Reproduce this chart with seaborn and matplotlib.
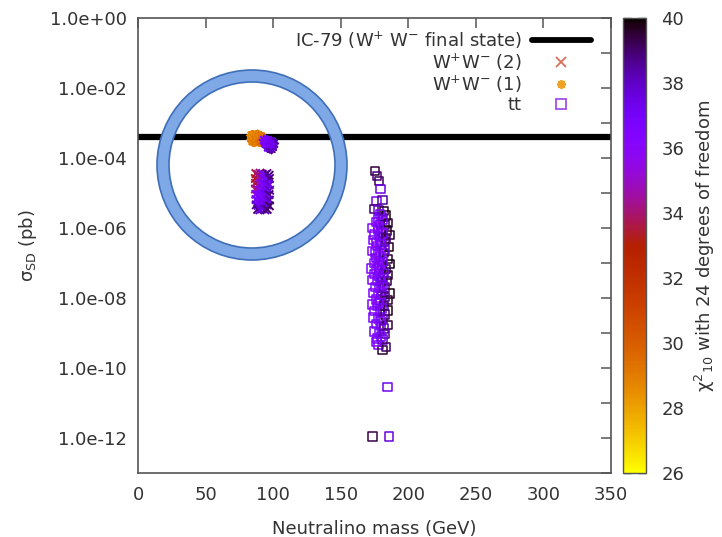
import matplotlib
matplotlib.use("Agg")
import matplotlib as mpl
import matplotlib.pyplot as plt
import numpy as np
import pandas as pd
import seaborn as sns
from matplotlib.lines import Line2D
from matplotlib.patches import Circle
from matplotlib.ticker import FixedLocator, FuncFormatter, NullLocator

# ---------------- data ----------------
ic79_limit = 4.0e-4

# W+W- (1): asterisks (orange block on the limit + violet tail)
ww1_mass = [84.0, 85.1, 86.3, 87.4, 88.6, 89.7, 90.9,
            84.6, 85.7, 86.9, 88.0, 89.2, 90.3, 91.4,
            84.2, 85.4, 86.6, 87.7, 88.9, 90.0, 91.1,
            84.8, 86.0, 87.2, 88.3, 89.5, 90.6, 91.6,
            93.2, 94.5, 95.8, 97.0, 98.3, 99.5, 100.4,
            94.0, 95.3, 96.6, 97.8, 99.0, 96.0, 97.4, 98.8, 99.9, 95.0, 98.0]
ww1_sigma = [4.4e-4, 4.5e-4, 4.3e-4, 4.4e-4, 4.6e-4, 4.3e-4, 4.2e-4,
             3.9e-4, 3.8e-4, 4.0e-4, 3.7e-4, 3.9e-4, 3.8e-4, 3.9e-4,
             3.4e-4, 3.3e-4, 3.5e-4, 3.2e-4, 3.4e-4, 3.3e-4, 3.5e-4,
             3.0e-4, 2.9e-4, 3.0e-4, 3.1e-4, 2.9e-4, 3.0e-4, 3.1e-4,
             3.3e-4, 3.1e-4, 3.2e-4, 2.9e-4, 3.0e-4, 2.8e-4, 2.6e-4,
             2.6e-4, 2.5e-4, 2.4e-4, 2.3e-4, 2.2e-4, 2.0e-4, 1.9e-4, 1.8e-4, 2.1e-4, 2.8e-4, 2.5e-4]
ww1_chi2 = [28.6, 28.9, 28.4, 29.1, 28.7, 29.3, 28.8,
            28.5, 29.0, 28.7, 28.9, 29.4, 28.6, 29.2,
            28.8, 28.3, 29.0, 28.6, 29.2, 28.9, 29.5,
            29.1, 28.7, 29.3, 28.8, 29.0, 29.4, 29.6,
            36.4, 36.8, 37.1, 36.6, 37.4, 37.9, 38.3,
            36.9, 37.2, 36.7, 37.6, 38.1, 37.0, 37.5, 38.4, 38.0, 36.5, 37.3]

# W+W- (2): crosses (lower block)
ww2_mass = [87.2, 88.9, 90.3, 92.0, 93.9, 95.4, 97.0,
            86.8, 88.5, 90.6, 92.3, 93.7, 95.7, 97.3,
            87.0, 88.8, 90.2, 91.9, 94.0, 95.3, 97.1,
            86.9, 88.6, 90.5, 92.2, 93.6, 95.6, 97.4,
            87.1, 88.9, 90.3, 92.0, 93.9, 95.4, 97.0,
            87.3, 88.7, 90.6, 92.3, 93.7, 95.7, 97.3,
            87.5, 89.0, 90.4, 92.1, 93.8, 95.5, 97.2,
            88.5, 90.2, 92.0, 93.9, 95.6]
ww2_sigma = [3.6e-5, 3.4e-5, 3.7e-5, 3.5e-5, 3.3e-5, 3.6e-5, 3.2e-5,
             2.6e-5, 2.4e-5, 2.5e-5, 2.7e-5, 2.4e-5, 2.5e-5, 2.6e-5,
             1.9e-5, 1.7e-5, 1.8e-5, 1.9e-5, 1.75e-5, 1.8e-5, 1.7e-5,
             1.3e-5, 1.25e-5, 1.2e-5, 1.3e-5, 1.25e-5, 1.3e-5, 1.2e-5,
             9.2e-6, 8.6e-6, 9.0e-6, 8.8e-6, 9.1e-6, 8.7e-6, 9.0e-6,
             6.5e-6, 6.1e-6, 6.4e-6, 6.2e-6, 6.5e-6, 6.1e-6, 6.3e-6,
             4.6e-6, 4.4e-6, 4.5e-6, 4.7e-6, 4.4e-6, 4.6e-6, 4.3e-6,
             3.4e-6, 3.3e-6, 3.5e-6, 3.3e-6, 3.4e-6]
ww2_chi2 = [33.6, 34.2, 33.9, 36.8, 37.2, 38.6, 39.1,
            33.2, 33.8, 34.5, 36.5, 37.0, 36.9, 38.8,
            33.5, 33.9, 35.2, 36.6, 36.9, 37.3, 37.8,
            34.0, 34.6, 36.3, 36.7, 36.8, 37.1, 38.2,
            35.8, 36.4, 36.6, 36.9, 37.0, 37.4, 38.9,
            36.9, 36.5, 36.7, 37.0, 36.6, 37.6, 38.4,
            38.5, 37.1, 36.8, 36.9, 37.2, 37.5, 39.2,
            38.9, 37.8, 37.3, 38.1, 39.0]

# t tbar: open squares
tt_mass = [175.5, 177.0, 178.5, 179.5, 176.5, 181.0, 174.5, 178.0, 182.0, 180.5, 183.5, 177.5,
           176.0, 179.0, 182.5, 185.0, 173.5, 177.5, 180.0, 184.0, 175.0, 178.5, 181.5, 186.0,
           174.0, 176.5, 179.5, 183.0, 177.0, 180.5, 185.5, 173.0, 175.5, 178.0, 182.0, 176.0,
           179.0, 184.5, 174.5, 177.5, 180.5, 186.5, 172.5, 176.5, 179.5, 183.5, 175.0, 178.0,
           181.0, 185.0, 173.5, 177.0, 180.0, 184.0, 175.5, 178.5, 182.5, 174.0, 177.5, 181.0,
           186.0, 176.0, 179.5, 184.5, 173.0, 177.0, 182.0, 175.0, 179.0, 185.0, 174.0, 177.5,
           181.5, 176.0, 180.0, 184.5, 175.0, 178.5, 182.5, 177.0, 181.0, 178.0, 183.5, 181.0,
           179.0, 181.5, 178.0, 181.0, 183.5, 180.0, 182.5, 179.0, 181.5, 178.5, 182.0, 179.0,
           181.5, 180.0, 183.0, 178.0, 180.5, 183.0, 179.5, 182.0, 180.0, 176.5,
           184.5, 173.5, 185.5]
tt_sigma = [4.2e-5, 3.1e-5, 2.2e-5, 1.3e-5, 6.0e-6, 6.2e-6, 3.5e-6, 3.3e-6, 3.0e-6, 2.1e-6, 2.3e-6, 1.8e-6,
            1.5e-6, 1.3e-6, 1.2e-6, 1.4e-6, 1.0e-6, 9.0e-7, 8.0e-7, 8.5e-7, 6.5e-7, 6.0e-7, 5.5e-7, 6.2e-7,
            4.5e-7, 4.0e-7, 3.8e-7, 4.2e-7, 3.0e-7, 2.7e-7, 2.9e-7, 2.2e-7, 2.0e-7, 1.8e-7, 1.9e-7, 1.4e-7,
            1.2e-7, 1.3e-7, 1.0e-7, 9.0e-8, 8.5e-8, 9.5e-8, 7.0e-8, 6.5e-8, 6.0e-8, 6.8e-8, 4.8e-8, 4.3e-8,
            4.0e-8, 4.5e-8, 3.2e-8, 3.0e-8, 2.8e-8, 3.1e-8, 2.1e-8, 1.9e-8, 2.0e-8, 1.4e-8, 1.3e-8, 1.2e-8,
            1.35e-8, 9.0e-9, 8.5e-9, 8.8e-9, 6.5e-9, 6.0e-9, 5.8e-9, 4.2e-9, 4.0e-9, 4.4e-9, 2.8e-9, 2.6e-9,
            2.5e-9, 1.8e-9, 1.6e-9, 1.7e-9, 1.1e-9, 1.0e-9, 9.5e-10, 7.0e-10, 6.5e-10, 4.5e-10, 4.0e-10, 3.2e-10,
            2.5e-6, 1.7e-6, 1.1e-6, 7.0e-7, 5.0e-7, 3.4e-7, 2.4e-7, 1.6e-7, 1.05e-7, 7.5e-8, 5.2e-8, 3.6e-8,
            2.4e-8, 1.6e-8, 1.05e-8, 7.2e-9, 5.0e-9, 3.4e-9, 2.2e-9, 1.35e-9, 8.0e-10, 5.5e-10,
            2.9e-11, 1.1e-12, 1.1e-12]
tt_chi2 = [39.5, 38.8, 39.2, 37.5, 37.0, 38.5, 39.0, 37.8, 39.6, 38.0, 39.8, 37.2,
           36.5, 37.0, 38.8, 39.5, 36.2, 36.8, 37.5, 39.8, 36.4, 36.9, 38.2, 39.6,
           36.6, 37.0, 36.5, 39.0, 36.3, 37.2, 39.7, 36.0, 36.7, 36.4, 38.5, 36.9,
           37.6, 39.4, 36.3, 36.6, 37.0, 39.9, 36.2, 36.8, 36.5, 39.2, 36.4, 37.1,
           38.0, 39.6, 36.3, 36.6, 37.4, 39.3, 36.5, 36.9, 38.6, 36.7, 36.2, 37.8,
           39.8, 36.4, 37.0, 39.5, 36.6, 36.3, 38.9, 36.5, 37.2, 39.7, 36.8, 36.4,
           38.1, 36.6, 37.5, 39.4, 36.9, 36.5, 38.7, 36.7, 37.9, 36.4, 39.1, 39.5,
           36.8, 37.3, 36.2, 36.6, 38.9, 36.4, 37.9, 36.2, 37.0, 36.3, 37.7, 36.5,
           37.4, 36.4, 38.8, 36.6, 37.0, 39.0, 36.7, 38.3, 37.1, 36.5,
           37.3, 39.3, 37.6]

x_ticks = [0, 50, 100, 150, 200, 250, 300, 350]
y_tick_exponents = list(range(0, -14, -1))
cbar_ticks = [26, 28, 30, 32, 34, 36, 38, 40]
legend_labels = ["IC-79 (W$^{+}$ W$^{-}$ final state)", "W$^{+}$W$^{-}$ (2)",
                 "W$^{+}$W$^{-}$ (1)", "tt"]

# ---------------- style ----------------
sns.set_style("white")
plt.rcParams["font.family"] = ["DejaVu Sans"]
plt.rcParams["font.size"] = 13
plt.rcParams["mathtext.default"] = "regular"
ink = "#333333"
plt.rcParams["text.color"] = ink
plt.rcParams["axes.labelcolor"] = ink
plt.rcParams["xtick.color"] = ink
plt.rcParams["ytick.color"] = ink

W, H = 722, 537
fig = plt.figure(figsize=(W / 100, H / 100), dpi=100)
ax_l, ax_r, ax_t, ax_b = 138, 611, 18, 473
ax = fig.add_axes([ax_l / W, 1 - ax_b / H, (ax_r - ax_l) / W, (ax_b - ax_t) / H])
cax = fig.add_axes([623 / W, 1 - ax_b / H, 23 / W, (ax_b - ax_t) / H])

cmap = "gnuplot_r"
cnorm = (26, 40)

tt_df = pd.DataFrame({"mass": tt_mass, "sigma": tt_sigma, "chi2": tt_chi2})
ww1_df = pd.DataFrame({"mass": ww1_mass, "sigma": ww1_sigma, "chi2": ww1_chi2})
ww2_df = pd.DataFrame({"mass": ww2_mass, "sigma": ww2_sigma, "chi2": ww2_chi2})

ax.axhline(ic79_limit, color="black", lw=4.5, zorder=2)

sns.scatterplot(data=tt_df, x="mass", y="sigma", hue="chi2", palette=cmap,
                hue_norm=cnorm, marker="s", s=36, legend=False, ax=ax, zorder=3)
coll = ax.collections[-1]
fc = coll.get_facecolors()
coll.set_edgecolors(fc)
coll.set_facecolors("none")
coll.set_linewidth(1.1)

sns.scatterplot(data=ww2_df, x="mass", y="sigma", hue="chi2", palette=cmap,
                hue_norm=cnorm, marker="x", s=36, legend=False, ax=ax, zorder=4)
ax.collections[-1].set_linewidth(1.4)

sns.scatterplot(data=ww1_df, x="mass", y="sigma", hue="chi2", palette=cmap,
                hue_norm=cnorm, marker=(8, 2, 0), s=38, legend=False, ax=ax, zorder=5)
ax.collections[-1].set_linewidth(1.4)

ax.set_yscale("log")
ax.set_xlim(0, 350)
ax.set_ylim(1e-13, 1e0)
ax.xaxis.set_major_locator(FixedLocator(x_ticks))
ax.yaxis.set_major_locator(FixedLocator([10.0 ** e for e in y_tick_exponents]))
ax.yaxis.set_minor_locator(NullLocator())
ax.yaxis.set_major_formatter(FuncFormatter(
    lambda v, p: f"{v:.1e}" if int(round(np.log10(v))) % 2 == 0 else ""))
ax.tick_params(axis="both", which="both", direction="in", length=7, width=1.1,
               top=True, right=True, color="#555555", labelsize=13)
ax.tick_params(axis="y", pad=8)
ax.tick_params(axis="x", pad=9)
for sp in ax.spines.values():
    sp.set_color("#555555")
    sp.set_linewidth(1.2)

ax.set_xlabel("Neutralino mass (GeV)", fontsize=13, labelpad=12)
ax.set_ylabel(r"$\sigma_{SD}$ (pb)", fontsize=13, labelpad=8)

handles = [Line2D([], [], color="black", lw=4.2),
           Line2D([], [], marker="x", ls="none", color="#d9705a", ms=6.5, mew=1.3),
           Line2D([], [], marker=(8, 2, 0), ls="none", color="#f0a020", ms=6.5, mew=1.3),
           Line2D([], [], marker="s", ls="none", mfc="none", mec="#a64ee8", ms=6.5, mew=1.3)]
ax.legend(handles, legend_labels, loc="upper right", bbox_to_anchor=(0.958, 0.975),
          frameon=False, markerfirst=False, handlelength=3.3, handletextpad=0.55,
          labelspacing=0.05, borderpad=0, borderaxespad=0, fontsize=13)

# colorbar
sm = mpl.cm.ScalarMappable(norm=mpl.colors.Normalize(*cnorm), cmap=cmap)
cb = fig.colorbar(sm, cax=cax)
cb.set_ticks(cbar_ticks)
cb.outline.set_edgecolor("#555555")
cb.outline.set_linewidth(1.0)
cax.tick_params(axis="y", direction="in", left=True, right=True, length=6,
                width=1.0, color="#333333", labelsize=13, pad=11)
cb.set_label(r"$\chi^{2}{}_{10}$ with 24 degrees of freedom", fontsize=13, labelpad=6)

# highlight ring (annotation)
cx, cy = 252 / 100, (H - 165) / 100
ring = Circle((cx, cy), 0.89, transform=fig.dpi_scale_trans, fill=False,
              edgecolor="#7ea8e6", lw=8.5, zorder=10)
ring_o = Circle((cx, cy), 0.95, transform=fig.dpi_scale_trans, fill=False,
                edgecolor="#3f6fb8", lw=1.2, zorder=11)
ring_i = Circle((cx, cy), 0.83, transform=fig.dpi_scale_trans, fill=False,
                edgecolor="#3f6fb8", lw=1.2, zorder=11)
for c in (ring, ring_o, ring_i):
    fig.patches.append(c)

fig.savefig("out.png", dpi=100)
